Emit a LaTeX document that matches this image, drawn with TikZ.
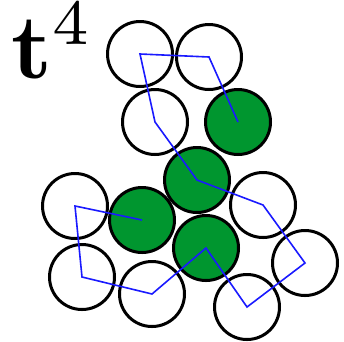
\documentclass[tikz,border=0pt]{standalone}
\usepackage{amsmath,amssymb}
\usetikzlibrary{positioning}
\definecolor{discgreen}{HTML}{00962F}
\definecolor{walkblue}{HTML}{1A1AFF}
\tikzset{
  disc/.style={circle,draw=black,fill=white,line width=3pt,minimum size=65pt,inner sep=0pt},
  hit/.style={disc,fill=discgreen},
  walk/.style={draw=walkblue,line width=1.6pt,line join=miter},
  label/.style={scale=9.2,inner sep=0pt,anchor=south west}
}
\begin{document}
\begin{tikzpicture}[x=1pt,y=-1pt]
\path[use as bounding box] (0,0) rectangle (344,341);
% discs of the walk
\node[disc] (tl) at (140,54) {};
\node[disc] (tr) at (209,57) {};
\node[disc] (ml) at (155,122) {};
\node[hit] (gr) at (238,122) {};
\node[hit] (gc) at (197,180) {};
\node[disc] (lt) at (75,206) {};
\node[hit] (gl) at (142,220) {};
\node[disc] (rm) at (263,205) {};
\node[hit] (gb) at (206,248) {};
\node[disc] (fr) at (305,263) {};
\node[disc] (bl) at (82,277) {};
\node[disc] (bm) at (152,294) {};
\node[disc] (br) at (247,307) {};
% the path through the centres
\draw[walk] (gr.center)--(tr.center)--(tl.center)--(ml.center)--(gc.center)--(rm.center)--(fr.center)
  --(br.center)--(gb.center)--(bm.center)--(bl.center)--(lt.center)--(gl.center);
\node[label] (t) at (10,80) {$\mathbf{t}^4$};
\end{tikzpicture}
\end{document}
